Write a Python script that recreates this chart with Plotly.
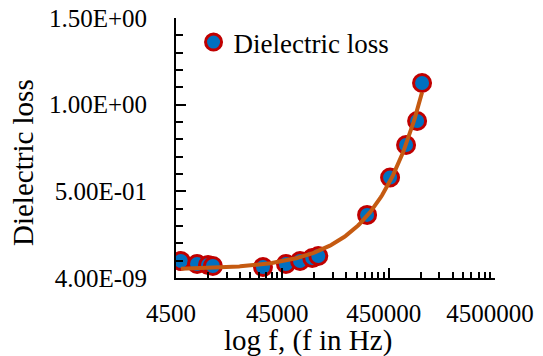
import numpy as np
import plotly.graph_objects as go

# Data
freq_hz = [5000, 7100, 9000, 10000, 29600, 48700, 66000, 86000, 98000,
           282000, 464000, 656000, 833000, 927000]
dielectric_loss = [0.098, 0.081, 0.075, 0.069, 0.063, 0.081, 0.098, 0.115, 0.127,
                   0.364, 0.580, 0.767, 0.906, 1.125]

x_tick_values = [4500, 45000, 450000, 4500000]
y_tick_values = [4.0e-9, 0.5, 1.0, 1.5]

series_name = "Dielectric loss"
x_title = "log f, (f in Hz)"
y_title = "Dielectric loss"

# Linear trendline (as in the spreadsheet chart), drawn on the log axis
coef = np.polyfit(freq_hz, dielectric_loss, 1)
f_line = np.logspace(np.log10(min(freq_hz)), np.log10(max(freq_hz)), 200)
loss_line = np.polyval(coef, f_line)

# minor ticks: 2..9 x each decade start
minor_vals = []
for d in x_tick_values[:-1]:
    for k in range(2, 10):
        minor_vals.append(d * k)

FONT = "Liberation Serif"
OFF = 8  # page body margin offset

# plot area in screen pixels: x 176..495, y 18..278
L, R, T, B = 176, 495, 18, 278
W, H = 543 - OFF, 356 - OFF
PW, PH = R - L, B - T

fig = go.Figure()
fig.add_trace(go.Scatter(
    x=freq_hz, y=dielectric_loss, mode="markers", name=series_name,
    marker=dict(size=17, color="#0070C0", line=dict(color="#C00000", width=3)),
))
fig.add_trace(go.Scatter(
    x=f_line, y=loss_line, mode="lines", showlegend=False,
    line=dict(color="#C55A11", width=4), hoverinfo="skip",
))

fig.update_layout(
    width=W, height=H,
    margin=dict(l=L - OFF, r=W - (R - OFF), t=T - OFF, b=H - (B - OFF), pad=0),
    paper_bgcolor="white", plot_bgcolor="white",
    font=dict(family=FONT, size=25, color="black"),
    showlegend=True,
    legend=dict(x=0.055, y=1.0, xanchor="left", yanchor="top",
                bgcolor="rgba(0,0,0,0)", font=dict(size=27, family=FONT)),
    xaxis=dict(
        type="log", automargin=False,
        range=[np.log10(x_tick_values[0]), np.log10(x_tick_values[-1])],
        tickvals=x_tick_values,
        ticktext=[str(v) for v in x_tick_values],
        showline=True, linecolor="black", linewidth=2,
        ticks="inside", ticklen=10, tickwidth=2, tickcolor="black",
        minor=dict(tickvals=minor_vals, ticks="inside", ticklen=6, tickwidth=2,
                   tickcolor="black", showgrid=False),
        showgrid=False, zeroline=False,
        ticklabelstandoff=12, ticklabeloverflow="allow", ticklabelshift=-5,
        tickfont=dict(size=25, family=FONT),
    ),
    yaxis=dict(
        range=[0, 1.5], automargin=False,
        tickvals=y_tick_values,
        ticktext=[f"{v:.2E}" for v in y_tick_values],
        showline=True, linecolor="black", linewidth=2,
        ticks="inside", ticklen=10, tickwidth=2, tickcolor="black",
        minor=dict(dtick=0.1, tick0=0, ticks="inside", ticklen=7, tickwidth=2,
                   tickcolor="black", showgrid=False),
        showgrid=False, zeroline=False,
        ticklabelstandoff=22, ticklabeloverflow="allow",
        tickfont=dict(size=25, family=FONT),
    ),
    annotations=[
        dict(text=x_title, xref="paper", yref="paper",
             x=(308 - L) / PW, y=-(340 - B) / PH,
             xanchor="center", yanchor="middle", showarrow=False,
             font=dict(size=29, family=FONT)),
        dict(text=y_title, xref="paper", yref="paper",
             x=-(L - 23) / PW, y=1 - (163 - T) / PH,
             xanchor="center", yanchor="middle", showarrow=False, textangle=-90,
             font=dict(size=29, family=FONT)),
    ],
)

fig.write_html("out.html")
